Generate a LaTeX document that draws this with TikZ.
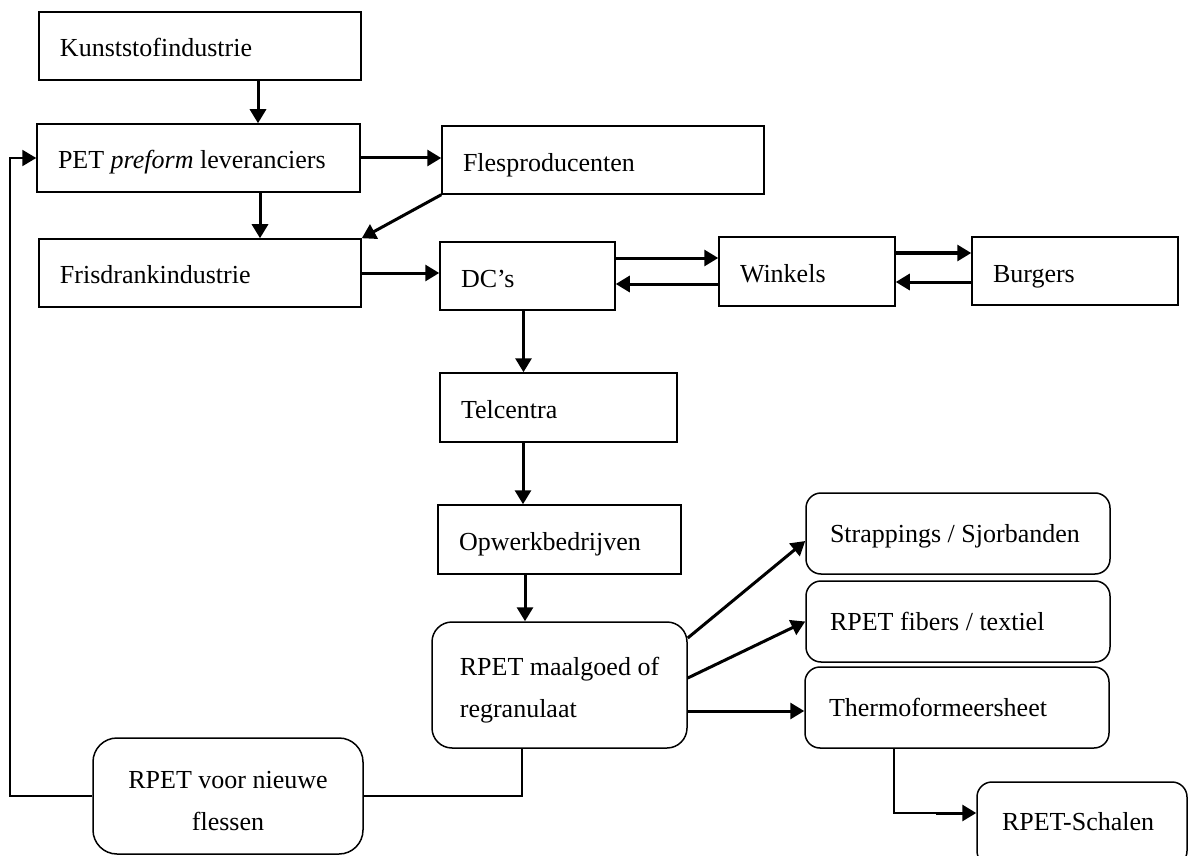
\documentclass[tikz,border=0pt]{standalone}
\usepackage{fontspec}
\setmainfont{Liberation Serif}
\usetikzlibrary{arrows.meta,calc}
\tikzset{
  fnt/.style={font=\fontsize{13}{21}\selectfont},
  rbox/.style={draw, line width=0.75pt, fnt, inner xsep=10.5pt, inner ysep=0pt,
    align=flush left, text height=11pt, text depth=0pt},
  rrbox/.style={draw, line width=0.75pt, fnt, rounded corners=7.5pt, inner xsep=12pt,
    inner ysep=0pt, align=flush left, text height=10pt, text depth=1pt},
  tip/.style={-{Triangle[length=7pt,width=8pt]}},
  arr/.style={line width=1.5pt, tip},
  ln/.style={line width=1.1pt},
}
\begin{document}
\begin{tikzpicture}[x=0.5pt,y=-0.5pt]
\clip (0,0) rectangle (1190,856);
\fill[white] (0,0) rectangle (1190,856);
% rectangular boxes
\node[rbox, minimum width=161pt, minimum height=34pt, text width=140pt] (kunst) at (200,46) {Kunststofindustrie};
\node[rbox, minimum width=161.5pt, minimum height=34pt, text width=140.5pt] (pet) at (198.5,158) {PET \textit{preform} leveranciers};
\node[rbox, minimum width=161pt, minimum height=34pt, text width=140pt] (fris) at (200,273) {Frisdrankindustrie};
\node[rbox, minimum width=161pt, minimum height=34pt, text width=140pt] (fles) at (603,160) {Flesproducenten};
\node[rbox, minimum width=87.5pt, minimum height=34pt, text width=66.5pt] (dc) at (527.5,276) {DC’s};
\node[rbox, minimum width=88pt, minimum height=34.5pt, text width=67pt] (win) at (807,271.5) {Winkels};
\node[rbox, minimum width=103pt, minimum height=34pt, text width=82pt] (burg) at (1075,271) {Burgers};
\node[rbox, minimum width=118.5pt, minimum height=34.5pt, text width=97.5pt] (tel) at (558.5,407.5) {Telcentra};
\node[rbox, minimum width=121.5pt, minimum height=34.5pt, text width=100.5pt] (opw) at (559.5,539.5) {Opwerkbedrijven};
% rounded boxes
\node[draw, line width=0.75pt, fnt, rounded corners=10pt, align=left, minimum width=127.5pt, minimum height=63pt] (maal) at (559.5,685) {\rule{0pt}{14pt}RPET maalgoed of\\regranulaat};
\node[rrbox, minimum width=152pt, minimum height=40.5pt, text width=128pt] (str) at (958,533.5) {Strappings / Sjorbanden};
\node[rrbox, minimum width=152pt, minimum height=40.5pt, text width=128pt] (fib) at (958,621.5) {RPET fibers / textiel};
\node[rrbox, minimum width=152pt, minimum height=40.5pt, text width=128pt] (thermo) at (957,707.5) {Thermoformeersheet};
\node[rrbox, minimum width=105pt, minimum height=42pt, text width=80pt, inner xsep=12.5pt, text height=7pt, text depth=1pt] (schalen) at (1082,824) {RPET-Schalen};
\node[draw, line width=0.75pt, fnt, rounded corners=12pt, align=center, minimum width=135pt, minimum height=58pt] (voor) at (228,796) {\rule{0pt}{14pt}RPET voor nieuwe\\flessen};
% connectors
\coordinate (k1) at ([xshift=29pt]kunst.south);
\draw[arr] (k1) -- (k1 |- pet.north);
\coordinate (p1) at ([xshift=30.75pt]pet.south);
\draw[arr] (p1) -- (p1 |- fris.north);
\draw[arr] (pet.east) -- (pet.east -| fles.west);
\draw[arr] (fles.south west) -- (fris.north east);
\draw[arr] (fris.east) -- (fris.east -| dc.west);
\coordinate (dw) at ([yshift=9pt]dc.east);
\draw[arr] (dw) -- (dw -| win.west);
\coordinate (wd) at ([yshift=-4pt]dc.east);
\draw[arr] (wd -| win.west) -- (wd);
\coordinate (wb) at ([yshift=9.25pt]win.east);
\draw[arr] (wb) -- (wb -| burg.west);
\coordinate (bw) at ([yshift=-5.25pt]win.east);
\draw[arr] (bw -| burg.west) -- (bw);
\coordinate (d1) at ([xshift=-2pt]dc.south);
\draw[arr] (d1) -- (d1 |- tel.north);
\coordinate (t1) at ([xshift=-17.75pt]tel.south);
\draw[arr] (t1) -- (t1 |- opw.north);
\coordinate (o1) at ([xshift=-17.25pt]opw.south);
\draw[arr] (o1) -- (o1 |- maal.north);
\draw[arr] ([yshift=23.5pt]maal.east) -- ([yshift=-3.75pt]str.west);
\draw[arr] ([yshift=3.5pt]maal.east) -- (fib.west);
\coordinate (m3) at ([yshift=-13pt]maal.east);
\draw[arr] (m3) -- (m3 -| thermo.west);
\coordinate (th) at ([xshift=-31.5pt]thermo.south);
\coordinate (sw) at ([yshift=5.5pt]schalen.west);
\draw[ln] (th) |- ([xshift=-20pt]sw);
\draw[arr] ([xshift=-20pt]sw) -- (sw);
\coordinate (mb) at ([xshift=-18.75pt]maal.south);
\draw[ln] (mb) |- (voor.east);
\coordinate (lx) at (10,0);
\draw[ln, tip] (voor.west) -| (lx |- pet.west) -- (pet.west);
\end{tikzpicture}
\end{document}
